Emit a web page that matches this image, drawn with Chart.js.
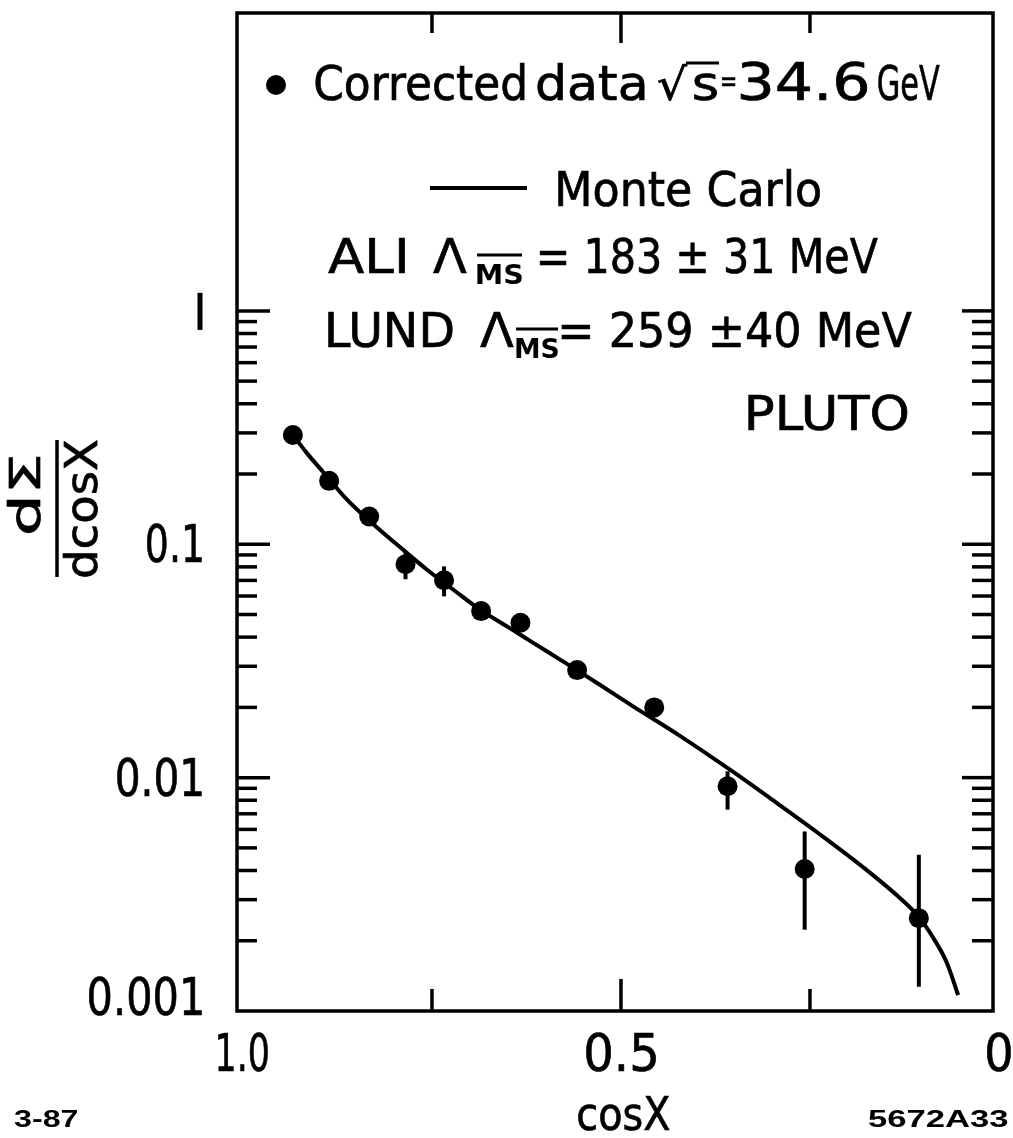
<!DOCTYPE html>
<html><head><meta charset="utf-8">
<script src="https://cdn.jsdelivr.net/npm/chart.js@4.4.0/dist/chart.umd.min.js"></script>
<style>html,body{margin:0;padding:0;background:#fff;}#wrap{width:1013px;height:1138px;position:relative;}canvas{display:block;}</style>
</head><body><div id="wrap"><canvas id="c" width="1013" height="1138"></canvas></div>
<script>
// ---- data ----
const cosChi   = [0.934, 0.886, 0.833, 0.785, 0.734, 0.685, 0.633, 0.558, 0.456, 0.359, 0.257, 0.106];
const dSigma   = [0.294, 0.187, 0.1315, 0.0821, 0.0701, 0.0517, 0.0461, 0.0289, 0.0200, 0.00918, 0.00406, 0.00250];
const errHigh  = [null, null, null, 0.0924, 0.0804, null, null, null, null, 0.01064, 0.00588, 0.00467];
const errLow   = [null, null, null, 0.0708, 0.0598, null, null, null, null, 0.00729, 0.00223, 0.00127];
const mcCos    = [0.934, 0.916, 0.894, 0.863, 0.828, 0.792, 0.757, 0.722, 0.687, 0.647, 0.616, 0.572, 0.528, 0.484, 0.422, 0.352, 0.299, 0.237, 0.180, 0.135, 0.106, 0.087, 0.069, 0.054];
const mcValues = [0.294, 0.247, 0.204, 0.156, 0.122, 0.097, 0.078, 0.064, 0.0526, 0.0437, 0.0378, 0.0308, 0.0250, 0.0202, 0.0151, 0.0106, 0.0080, 0.00572, 0.00414, 0.00313, 0.00253, 0.00206, 0.00161, 0.00117];
const xTickMajor = [0.5];
const xTickMinor = [0.75, 0.25];
const xTickLabelValues = [1.0, 0.5, 0];
const xTickLabels = ['1.0', '0.5', '0'];
const yTickMajor = [0.01, 0.1, 1];
const yMinorDecades = [0.001, 0.01, 0.1];
const yMinorMantissas = [2, 3, 4, 5, 6, 7, 8, 9];
const yTickLabelValues = [1, 0.1, 0.01, 0.001];
const yTickLabels = ['1', '0.1', '0.01', '0.001'];

const FONT = "'DejaVu Sans', 'Liberation Sans', sans-serif";

function fit(ctx, text, x, y, w, font, stroke) {
  ctx.save();
  ctx.font = font; ctx.textAlign = 'left'; ctx.textBaseline = 'alphabetic';
  const m = ctx.measureText(text);
  const ink = m.actualBoundingBoxLeft + m.actualBoundingBoxRight;
  ctx.translate(x, y);
  ctx.scale(w / ink, 1);
  ctx.fillText(text, m.actualBoundingBoxLeft, 0);
  if (stroke !== 0) { ctx.lineWidth = stroke || 0.7; ctx.lineJoin = 'round'; ctx.strokeText(text, m.actualBoundingBoxLeft, 0); }
  ctx.restore();
}
function seg(ctx, x1, y1, x2, y2) { ctx.beginPath(); ctx.moveTo(x1, y1); ctx.lineTo(x2, y2); ctx.stroke(); }

const errorBars = {
  id: 'errorBars',
  afterDatasetsDraw(chart) {
    const { ctx, scales: { x, y } } = chart;
    ctx.save(); ctx.strokeStyle = '#000'; ctx.lineWidth = 4;
    cosChi.forEach((c, i) => {
      if (errHigh[i] == null) return;
      const px = x.getPixelForValue(c);
      seg(ctx, px, y.getPixelForValue(errHigh[i]), px, y.getPixelForValue(errLow[i]));
    });
    ctx.restore();
  }
};

const axesAndText = {
  id: 'axesAndText',
  afterDraw(chart) {
    const { ctx, chartArea: a, scales: { x, y } } = chart;
    ctx.save();
    ctx.strokeStyle = '#000'; ctx.fillStyle = '#000'; ctx.lineWidth = 3.5; ctx.lineCap = 'butt';
    ctx.strokeRect(a.left, a.top, a.right - a.left, a.bottom - a.top);
    // y ticks (both sides, inward)
    yTickMajor.forEach(v => { const p = y.getPixelForValue(v); seg(ctx, a.left, p, a.left + 33, p); seg(ctx, a.right, p, a.right - 31, p); });
    yMinorDecades.forEach(d => yMinorMantissas.forEach(m => {
      const p = y.getPixelForValue(d * m); seg(ctx, a.left, p, a.left + 20, p); seg(ctx, a.right, p, a.right - 21, p);
    }));
    // x ticks (top and bottom, inward)
    xTickMajor.forEach(v => { const p = x.getPixelForValue(v); seg(ctx, p, a.top, p, a.top + 30); seg(ctx, p, a.bottom, p, a.bottom - 32); });
    xTickMinor.forEach(v => { const p = x.getPixelForValue(v); seg(ctx, p, a.top, p, a.top + 20); seg(ctx, p, a.bottom, p, a.bottom - 22); });

    // tick labels
    const tf = `52px ${FONT}`;
    const yW = { '1': 6, '0.1': 55, '0.01': 85, '0.001': 113 };
    yTickLabels.forEach((t, i) => {
      const p = y.getPixelForValue(yTickLabelValues[i]);
      const base = t === '0.001' ? p + 4 : p + 18;
      if (t === '1') { ctx.fillRect(197.5, p - 18, 5, 37); }
      else fit(ctx, t, 202 - yW[t], base, yW[t], tf);
    });
    const xW = { '1.0': 50, '0.5': 70, '0': 24 };
    xTickLabels.forEach((t, i) => {
      const p = x.getPixelForValue(xTickLabelValues[i]);
      fit(ctx, t, p - xW[t] / 2, 1071, xW[t], tf);
    });

    // axis titles
    fit(ctx, 'cosX', 578, 1130, 92, `46px ${FONT}`);
    fit(ctx, '3-87', 14, 1127, 64, `bold 24px 'Liberation Sans', sans-serif`, 0);
    fit(ctx, '5672A33', 868, 1127, 140, `bold 24px 'Liberation Sans', sans-serif`, 0);
    ctx.save();
    ctx.translate(57, 508); ctx.rotate(-Math.PI / 2);
    ctx.lineWidth = 3.5; seg(ctx, -69, 0, 68, 0);
    fit(ctx, 'dΣ', -25, -17, 76, `42px ${FONT}`);
    fit(ctx, 'dcosX', -69, 40, 137, `45px ${FONT}`);
    ctx.restore();

    // legend / annotation block
    const lf = `48px ${FONT}`;
    ctx.beginPath(); ctx.arc(276, 85, 10, 0, Math.PI * 2); ctx.fill();
    fit(ctx, 'Corrected', 315, 100, 210, lf);
    fit(ctx, 'data', 537, 100, 108, lf);
    fit(ctx, '√', 658, 100, 30, `44px ${FONT}`);
    ctx.lineWidth = 3; seg(ctx, 686, 63, 719, 63);
    fit(ctx, 's', 694, 100, 23, lf);
    fit(ctx, '=', 722, 91, 13, `30px ${FONT}`);
    fit(ctx, '34.6', 740, 100, 127, `52px ${FONT}`);
    fit(ctx, 'GeV', 878, 100, 62, lf);

    ctx.lineWidth = 4; seg(ctx, 430, 188, 527, 188);
    fit(ctx, 'Monte Carlo', 558, 206, 262, lf);

    const sf = `bold 26px ${FONT}`;
    fit(ctx, 'ALI', 328, 273, 77, lf);
    fit(ctx, 'Λ', 433, 273, 34, lf);
    ctx.lineWidth = 3; seg(ctx, 477, 255, 522, 255);
    fit(ctx, 'MS', 477, 284, 45, sf, 0);
    fit(ctx, '= 183 ± 31 MeV', 540, 273, 338, lf);

    fit(ctx, 'LUND', 328, 347, 125, lf);
    fit(ctx, 'Λ', 480, 347, 34, lf);
    ctx.lineWidth = 3; seg(ctx, 516, 329, 558, 329);
    fit(ctx, 'MS', 516, 358, 42, sf, 0);
    fit(ctx, '= 259 ±40 MeV', 562, 347, 350, lf);

    fit(ctx, 'PLUTO', 748, 430, 160, lf);
    ctx.restore();
  }
};

new Chart(document.getElementById('c'), {
  type: 'scatter',
  data: {
    datasets: [
      { label: 'Monte Carlo', data: mcCos.map((c, i) => ({ x: c, y: mcValues[i] })), showLine: true,
        borderColor: '#000', borderWidth: 4, pointRadius: 0, cubicInterpolationMode: 'monotone', fill: false },
      { label: 'Corrected data', data: cosChi.map((c, i) => ({ x: c, y: dSigma[i] })),
        pointRadius: 10, backgroundColor: '#000', borderColor: '#000', borderWidth: 0 }
    ]
  },
  options: {
    responsive: false, animation: false, devicePixelRatio: 1, events: [],
    layout: { padding: { left: 237, right: 20, top: 13, bottom: 127 } },
    plugins: { legend: { display: false }, tooltip: { enabled: false } },
    scales: {
      x: { type: 'linear', reverse: true, min: 0.0079, max: 1.0079, display: false },
      y: { type: 'logarithmic', min: 0.001, max: 18.9, display: false }
    }
  },
  plugins: [errorBars, axesAndText]
});
</script></body></html>
